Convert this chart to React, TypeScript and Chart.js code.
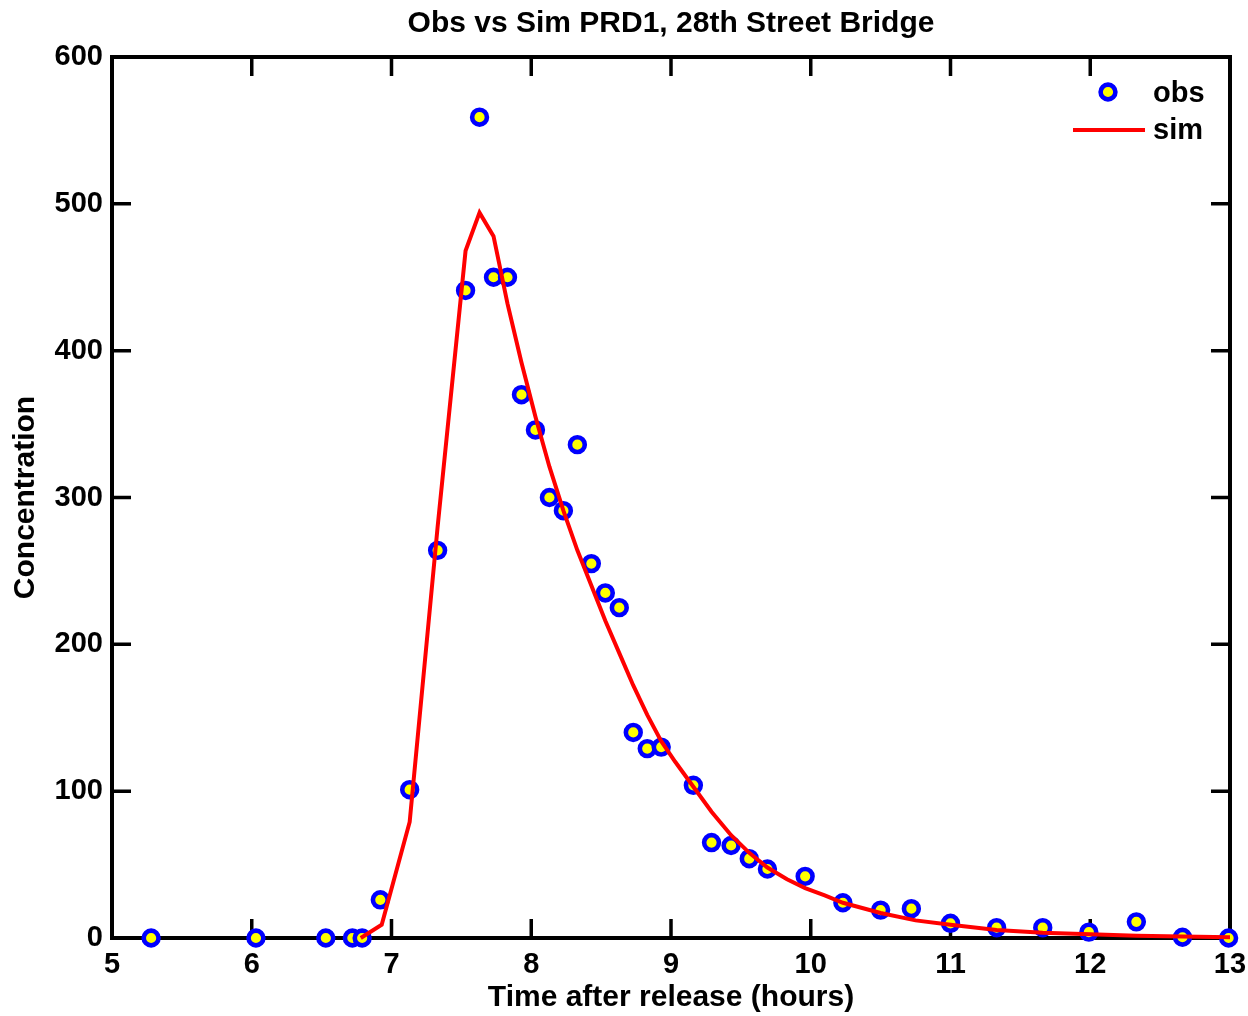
import React, { useEffect, useRef } from "react";
import { Chart, registerables } from "chart.js";

Chart.register(...registerables);

const titleText = "Obs vs Sim PRD1, 28th Street Bridge";
const xAxisTitle = "Time after release (hours)";
const yAxisTitle = "Concentration";

const obsTime = [5.28, 6.03, 6.53, 6.72, 6.79, 6.92, 7.13, 7.33, 7.53, 7.63, 7.73, 7.83, 7.93, 8.03, 8.13, 8.23, 8.33, 8.43, 8.53, 8.63, 8.73, 8.83, 8.93, 9.16, 9.29, 9.43, 9.56, 9.69, 9.96, 10.23, 10.5, 10.72, 11.0, 11.33, 11.66, 11.99, 12.33, 12.66, 12.99];
const obsConc = [0, 0, 0, 0, 0, 26, 101, 264, 441, 559, 450, 450, 370, 346, 300, 291, 336, 255, 235, 225, 140, 129, 130, 104, 65, 63, 54, 47, 42, 24, 19, 20, 10, 7, 7, 4, 11, 0.5, 0];

const simTime = [6.78, 6.93, 7.13, 7.33, 7.53, 7.63, 7.73, 7.83, 7.93, 8.03, 8.13, 8.23, 8.33, 8.43, 8.53, 8.63, 8.73, 8.83, 8.93, 9.03, 9.16, 9.29, 9.43, 9.56, 9.69, 9.83, 9.96, 10.1, 10.23, 10.5, 10.75, 11.0, 11.33, 11.66, 12.0, 12.33, 12.66, 13.0];
const simConc = [0, 9, 79, 280, 468, 494, 478, 432, 392, 355, 321, 291, 264, 240, 216, 194, 172, 152, 134, 120, 103, 86, 70, 58, 48, 40, 34, 29, 24, 17, 12, 9, 5.5, 3.5, 2.5, 1.5, 1, 0.5];

const xTicks = [5, 6, 7, 8, 9, 10, 11, 12, 13];
const yTicks = [0, 100, 200, 300, 400, 500, 600];

const legendLabels = ["obs", "sim"];

const FONT = "'Liberation Sans', Arial, Helvetica, sans-serif";
const BLUE = "#0000ff";
const YELLOW = "#ffff00";
const RED = "#ff0000";

const framePlugin = {
  id: "frameTicks",
  beforeDatasetsDraw(chart: any) {
    const { ctx, chartArea } = chart;
    const { left, right, top, bottom } = chartArea;
    const xs = chart.scales.x;
    const ys = chart.scales.y;
    const tl = 19;
    ctx.save();
    ctx.strokeStyle = "#000";
    ctx.lineWidth = 3.5;
    ctx.lineCap = "butt";
    ctx.beginPath();
    xTicks.forEach((t) => {
      const px = xs.getPixelForValue(t);
      ctx.moveTo(px, bottom);
      ctx.lineTo(px, bottom - tl);
      ctx.moveTo(px, top);
      ctx.lineTo(px, top + tl);
    });
    yTicks.forEach((t) => {
      const py = ys.getPixelForValue(t);
      ctx.moveTo(left, py);
      ctx.lineTo(left + tl, py);
      ctx.moveTo(right, py);
      ctx.lineTo(right - tl, py);
    });
    ctx.stroke();
    ctx.lineWidth = 4;
    ctx.strokeRect(left, top, right - left, bottom - top);
    ctx.restore();
  },
  afterDraw(chart: any) {
    const { ctx, chartArea } = chart;
    const r = chartArea.right;
    const t = chartArea.top;
    ctx.save();
    ctx.beginPath();
    ctx.arc(r - 122, t + 35, 7.4, 0, Math.PI * 2);
    ctx.fillStyle = YELLOW;
    ctx.fill();
    ctx.lineWidth = 4.6;
    ctx.strokeStyle = BLUE;
    ctx.stroke();
    ctx.beginPath();
    ctx.moveTo(r - 157, t + 73);
    ctx.lineTo(r - 85, t + 73);
    ctx.lineWidth = 4;
    ctx.strokeStyle = RED;
    ctx.stroke();
    ctx.fillStyle = "#000";
    ctx.font = `bold 29px ${FONT}`;
    ctx.textAlign = "left";
    ctx.textBaseline = "middle";
    ctx.fillText(legendLabels[0], r - 77, t + 37);
    ctx.fillText(legendLabels[1], r - 77, t + 74);
    ctx.restore();
  },
};

export default function App() {
  const ref = useRef<HTMLCanvasElement | null>(null);
  useEffect(() => {
    document.body.style.margin = "0";
    const canvas = ref.current;
    if (!canvas) return;
    const chart = new Chart(canvas, {
      type: "scatter",
      data: {
        datasets: [
          {
            label: legendLabels[1],
            type: "line",
            data: simTime.map((x, i) => ({ x, y: simConc[i] })),
            borderColor: RED,
            borderWidth: 4,
            pointRadius: 0,
            fill: false,
            tension: 0,
            order: 0,
            clip: false as any,
          },
          {
            label: legendLabels[0],
            data: obsTime.map((x, i) => ({ x, y: obsConc[i] })),
            pointRadius: 7.4,
            pointBorderWidth: 4.6,
            pointBackgroundColor: YELLOW,
            pointBorderColor: BLUE,
            order: 1,
            clip: false as any,
          },
        ],
      },
      options: {
        animation: false,
        responsive: false,
        layout: { padding: { top: 4, left: 8, right: 18, bottom: 0 } },
        plugins: {
          legend: { display: false },
          tooltip: { enabled: false },
          title: {
            display: true,
            text: titleText,
            fullSize: false,
            color: "#000",
            font: { family: FONT, size: 30, weight: "bold" },
            padding: { top: 2, bottom: 15 },
          },
        },
        scales: {
          x: {
            type: "linear",
            min: 5,
            max: 13,
            afterBuildTicks: (s: any) => {
              s.ticks = xTicks.map((v) => ({ value: v }));
            },
            afterFit: (s: any) => {
              s.height = 78;
              s.paddingLeft = 0;
              s.paddingRight = 0;
            },
            grid: { display: false, drawTicks: false },
            border: { display: false },
            ticks: {
              color: "#000",
              padding: 10,
              maxRotation: 0,
              autoSkip: false,
              font: { family: FONT, size: 29, weight: "bold" },
            },
            title: {
              display: true,
              text: xAxisTitle,
              color: "#000",
              padding: 0,
              font: { family: FONT, size: 30, weight: "bold" },
            },
          },
          y: {
            type: "linear",
            min: 0,
            max: 600,
            afterBuildTicks: (s: any) => {
              s.ticks = yTicks.map((v) => ({ value: v }));
            },
            afterFit: (s: any) => {
              s.width = 104;
              s.paddingTop = 0;
              s.paddingBottom = 0;
            },
            grid: { display: false, drawTicks: false },
            border: { display: false },
            ticks: {
              color: "#000",
              padding: 9,
              autoSkip: false,
              font: { family: FONT, size: 29, weight: "bold" },
            },
            title: {
              display: true,
              text: yAxisTitle,
              color: "#000",
              padding: 0,
              font: { family: FONT, size: 30, weight: "bold" },
            },
          },
        },
      },
      plugins: [framePlugin],
    });
    return () => chart.destroy();
  }, []);
  return (
    <div style={{ width: 1248, height: 1016, background: "#fff" }}>
      <canvas ref={ref} width={1248} height={1016} style={{ display: "block" }} />
    </div>
  );
}
